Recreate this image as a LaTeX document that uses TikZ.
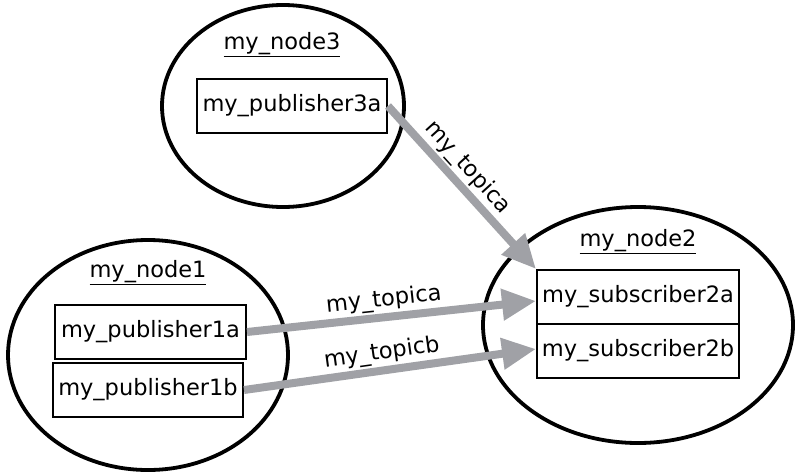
\documentclass[tikz,border=0pt]{standalone}
\usepackage{fontspec}
\setmainfont{DejaVu Sans}
\usetikzlibrary{shapes.geometric,arrows.meta}
\definecolor{arrgray}{RGB}{160,161,166}
\tikzset{
  rosnode/.style={draw=black, line width=3.8pt, ellipse, inner sep=0pt},
  rosbox/.style={draw=black, line width=2pt, rectangle, inner sep=0pt, fill=white,
    font=\fontsize{22.5}{26}\selectfont},
  nodelabel/.style={font=\fontsize{22.5}{26}\selectfont, inner sep=0pt},
  topic/.style={draw=arrgray, line width=8pt, -{Triangle[length=34pt,width=30pt]}},
  topiclabel/.style={font=\fontsize{22.5}{26}\selectfont, sloped, inner sep=2pt}
}
\begin{document}
\begin{tikzpicture}[x=1pt,y=-1pt]
\useasboundingbox (0,0) rectangle (800,474);
% ellipses
\node[rosnode, minimum width=242pt, minimum height=202pt] (n3) at (283,106) {};
\node[rosnode, minimum width=280pt, minimum height=230pt] (n1) at (148,355) {};
\node[rosnode, minimum width=310pt, minimum height=236pt] (n2) at (638,325) {};
% node titles
\node[nodelabel] (t3) at (282,45) {\underline{my\_node3}};
\node[nodelabel] (t1) at (148,273) {\underline{my\_node1}};
\node[nodelabel] (t2) at (638,242) {\underline{my\_node2}};
% boxes
\node[rosbox, minimum width=190pt, minimum height=54pt] (p3a) at (292,106) {my\_publisher3a};
\node[rosbox, minimum width=191pt, minimum height=54pt] (p1a) at (150.5,332) {my\_publisher1a};
\node[rosbox, minimum width=190pt, minimum height=54pt] (p1b) at (148,390) {my\_publisher1b};
\node[rosbox, minimum width=202pt, minimum height=54pt] (s2a) at (638,297) {my\_subscriber2a};
\node[rosbox, minimum width=202pt, minimum height=54pt] (s2b) at (638,351) {my\_subscriber2b};
% connectors
\draw[topic] (p3a.east) -- node[topiclabel, above, pos=0.45] (l3) {my\_topica} (s2a.north west);
\draw[topic] (p1a.east) -- node[topiclabel, above, pos=0.48] (l1) {my\_topica} ([yshift=-4pt]s2a.west);
\draw[topic] (p1b.east) -- node[topiclabel, above, pos=0.48] (l2) {my\_topicb} ([yshift=2pt]s2b.west);
\end{tikzpicture}
\end{document}
